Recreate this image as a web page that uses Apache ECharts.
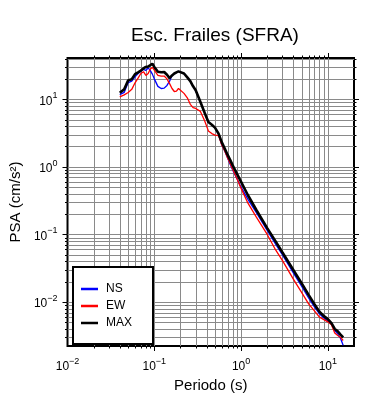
<!DOCTYPE html>
<html>
<head>
<meta charset="utf-8">
<script src="https://cdn.jsdelivr.net/npm/echarts@6/dist/echarts.min.js"></script>
<style>
  html, body { margin: 0; padding: 0; background: #fff; }
  #chart { width: 390px; height: 400px; }
</style>
</head>
<body>
<div id="chart"></div>
<script>
// periods (s)
var periods = [0.04, 0.045, 0.05, 0.055, 0.06, 0.065, 0.07, 0.075, 0.08, 0.085, 0.09, 0.095,
  0.1, 0.11, 0.12, 0.13, 0.14, 0.15, 0.16, 0.17, 0.18, 0.19, 0.2, 0.22, 0.24, 0.26, 0.28, 0.3,
  0.34, 0.38, 0.42, 0.46, 0.5, 0.55, 0.6, 0.65, 0.7, 0.75, 0.8, 0.9, 1.0, 1.2, 1.5, 2, 2.5, 3,
  4, 5, 6, 7, 8, 9, 10, 11, 12, 13, 14, 15];

// PSA (cm/s2)
var psaNS = [11.7, 12.6, 17.6, 18.5, 21.5, 24, 26, 27.7, 26.7, 29, 26.5, 23.5,
  20, 15.5, 14.4, 14.6, 16, 18.5, 22.5, 24, 25, 25.8, 26.2, 24, 21, 18.5, 15.5, 13.4,
  9.0, 6.4, 4.6, 4.2, 3.8, 3.0, 2.1, 1.7, 1.35, 1.08, 0.9, 0.66, 0.5, 0.33, 0.21, 0.115, 0.072, 0.05,
  0.027, 0.017, 0.0115, 0.0085, 0.0067, 0.0058, 0.0052, 0.0047, 0.0038, 0.0034, 0.0029, 0.0023];

var psaEW = [10.8, 11.6, 12.6, 14, 17.5, 20.5, 24, 25.5, 22.5, 24, 28, 29.5,
  27, 22.5, 22, 22, 20, 17, 14.4, 13, 13.2, 14.4, 15.2, 12.2, 10.5, 8.4, 7.5, 7.3,
  6.6, 4.8, 3.4, 3.1, 2.95, 2.9, 2.1, 1.7, 1.35, 1.12, 0.92, 0.66, 0.48, 0.29, 0.18, 0.1, 0.059, 0.041,
  0.0218, 0.0138, 0.0094, 0.0074, 0.006, 0.0055, 0.0051, 0.0046, 0.0035, 0.0032, 0.003, 0.0027];

var psaMAX = [12.5, 14, 19, 19.8, 23.5, 25, 26.5, 28.5, 30, 30.5, 32, 33.5,
  30, 25.5, 25, 25.3, 23, 20.5, 22.5, 24, 25, 25.8, 26.2, 24, 21, 18.5, 15.5, 13.6,
  9.1, 6.3, 4.6, 4.2, 3.8, 3.1, 2.3, 1.85, 1.5, 1.26, 1.05, 0.78, 0.6, 0.38, 0.23, 0.124, 0.079, 0.054,
  0.0298, 0.0188, 0.0128, 0.0093, 0.0072, 0.0062, 0.0056, 0.0049, 0.004, 0.0037, 0.0033, 0.003];

var xMin = 0.01, xMax = 20;
var yMin = 0.00224, yMax = 40.7;

function pairs(ys) {
  return periods.map(function (t, i) { return [t, ys[i]]; });
}

function isDecade(v) {
  var l = Math.log10(v);
  return Math.abs(l - Math.round(l)) < 1e-6;
}

// grid line positions at 1..9 x 10^k
var xLines = [], yLines = [];
for (var k = -2; k <= 1; k++) {
  for (var m = 1; m <= 9; m++) {
    var v = m * Math.pow(10, k);
    if (v > xMin * 1.0001 && v < xMax * 0.9999) xLines.push([v, 1]);
  }
}
for (var k2 = -3; k2 <= 1; k2++) {
  for (var m2 = 1; m2 <= 9; m2++) {
    var w = m2 * Math.pow(10, k2);
    if (w > yMin * 1.0001 && w < yMax * 0.9999) yLines.push([1, w]);
  }
}

var gridColor = '#8a8a8a';

function xGrid(params, api) {
  var cs = params.coordSys;
  var v = api.value(0);
  var x = Math.round(api.coord([v, 1])[0]) + 0.5;
  var len = isDecade(v) ? 5 : 2.5;
  var top = cs.y, bot = cs.y + cs.height;
  return {
    type: 'group', children: [
      { type: 'line', shape: { x1: x, y1: top, x2: x, y2: bot }, style: { stroke: gridColor, lineWidth: 1 } },
      { type: 'line', shape: { x1: x, y1: top - len, x2: x, y2: top }, style: { stroke: '#000', lineWidth: 1 } },
      { type: 'line', shape: { x1: x, y1: bot, x2: x, y2: bot + len }, style: { stroke: '#000', lineWidth: 1 } }
    ]
  };
}

function yGrid(params, api) {
  var cs = params.coordSys;
  var v = api.value(1);
  var y = Math.round(api.coord([1, v])[1]) + 0.5;
  var len = isDecade(v) ? 5 : 2.5;
  var left = cs.x, right = cs.x + cs.width;
  return {
    type: 'group', children: [
      { type: 'line', shape: { x1: left, y1: y, x2: right, y2: y }, style: { stroke: gridColor, lineWidth: 1 } },
      { type: 'line', shape: { x1: left - len, y1: y, x2: left, y2: y }, style: { stroke: '#000', lineWidth: 1 } },
      { type: 'line', shape: { x1: right, y1: y, x2: right + len, y2: y }, style: { stroke: '#000', lineWidth: 1 } }
    ]
  };
}

function powLabel(v) {
  if (!isDecade(v)) return '';
  var e = Math.round(Math.log10(v));
  var s = e < 0 ? '\u2212' + (-e) : String(e);
  return '{b|10}{sup|' + s + '}';
}

var labelRich = {
  b: { fontSize: 12, fontFamily: 'Liberation Sans', color: '#000', lineHeight: 16, verticalAlign: 'bottom' },
  sup: { fontSize: 9, fontFamily: 'Liberation Sans', color: '#000', lineHeight: 16, verticalAlign: 'top' }
};

var chart = echarts.init(document.getElementById('chart'));
var option = {
  backgroundColor: '#fff',
  animation: false,
  textStyle: { fontFamily: 'Liberation Sans' },
  title: {
    text: 'Esc. Frailes (SFRA)',
    left: 210,
    textAlign: 'center',
    top: 21,
    textStyle: { fontSize: 19, fontWeight: 'normal', color: '#000', fontFamily: 'Liberation Sans' }
  },
  grid: {
    left: 67, right: 36, top: 58, bottom: 54,
    show: true, borderColor: '#000', borderWidth: 2, backgroundColor: 'transparent'
  },
  legend: {
    data: [
      { name: 'NS', icon: 'rect' },
      { name: 'EW', icon: 'rect' },
      { name: 'MAX', icon: 'rect' }
    ],
    orient: 'vertical',
    left: 73,
    top: 267,
    padding: [15, 21, 14, 8],
    itemGap: 3,
    itemWidth: 17,
    itemHeight: 2.5,
    backgroundColor: '#fff',
    borderColor: '#000',
    borderWidth: 2,
    borderRadius: 0,
    textStyle: { fontSize: 12, color: '#000', fontFamily: 'Liberation Sans', padding: [0, 0, 0, 3], lineHeight: 14 }
  },
  xAxis: {
    type: 'log',
    logBase: 10,
    min: xMin,
    max: xMax,
    name: 'Periodo (s)',
    nameLocation: 'middle',
    nameGap: 29,
    nameTextStyle: { fontSize: 15, color: '#000', fontFamily: 'Liberation Sans' },
    axisLine: { show: false },
    axisTick: { show: false },
    splitLine: { show: false },
    axisLabel: { margin: 11, formatter: powLabel, rich: labelRich, showMinLabel: true, showMaxLabel: true }
  },
  yAxis: {
    type: 'log',
    logBase: 10,
    min: yMin,
    max: yMax,
    name: 'PSA (cm/s\u00B2)',
    nameLocation: 'middle',
    nameGap: 42,
    nameTextStyle: { fontSize: 15, color: '#000', fontFamily: 'Liberation Sans' },
    axisLine: { show: false },
    axisTick: { show: false },
    splitLine: { show: false },
    axisLabel: { margin: 10, formatter: powLabel, rich: labelRich }
  },
  series: [
    { type: 'custom', name: 'xgrid', renderItem: xGrid, data: xLines, z: 1, silent: true, clip: false },
    { type: 'custom', name: 'ygrid', renderItem: yGrid, data: yLines, z: 1, silent: true, clip: false },
    {
      name: 'NS', type: 'line', data: pairs(psaNS), symbol: 'none', z: 3,
      lineStyle: { color: '#0000ff', width: 1.3 }, itemStyle: { color: '#0000ff' }
    },
    {
      name: 'EW', type: 'line', data: pairs(psaEW), symbol: 'none', z: 3,
      lineStyle: { color: '#ff0000', width: 1.3 }, itemStyle: { color: '#ff0000' }
    },
    {
      name: 'MAX', type: 'line', data: pairs(psaMAX), symbol: 'none', z: 3,
      lineStyle: { color: '#000', width: 2.6 }, itemStyle: { color: '#000' }
    }
  ]
};
chart.setOption(option);
</script>
</body>
</html>
